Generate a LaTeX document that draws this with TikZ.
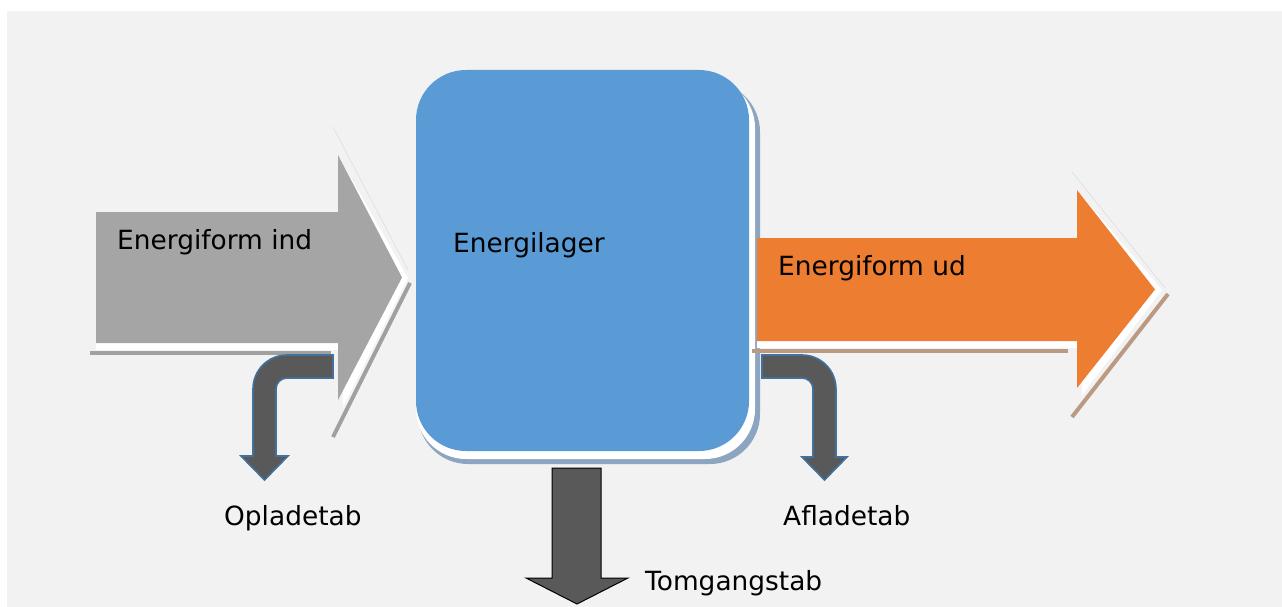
\documentclass[tikz,border=0pt]{standalone}
\usepackage{fontspec}
\setmainfont{DejaVu Sans}
\definecolor{bgc}{HTML}{F2F2F2}
\definecolor{greyarrow}{HTML}{A5A5A5}
\definecolor{greyshadow}{HTML}{A0A0A0}
\definecolor{bluebox}{HTML}{5B9BD5}
\definecolor{blueshadow}{HTML}{8CA5C0}
\definecolor{orangearrow}{HTML}{ED7D31}
\definecolor{orangeshadow}{HTML}{BC9A82}
\definecolor{darkarrow}{HTML}{595959}
\definecolor{darkoutline}{HTML}{41719C}
\definecolor{faintline}{HTML}{E2E2E2}
\tikzset{
  lbl/.style={inner sep=0pt, anchor=base west, font=\fontsize{26.4}{30}\selectfont, text=black},
  shadowstrip/.style={line width=4pt},
  glow/.style={fill=white},
  bentarrow/.style={fill=darkarrow, draw=darkoutline, line width=1.6pt, line join=miter},
  downarrow/.style={fill=darkarrow, draw=black, line width=1pt}
}
\begin{document}
\begin{tikzpicture}[x=1pt,y=-1pt]
\useasboundingbox (0,0) rectangle (1282,607);
\fill[bgc] (7,11) rectangle (1282,607);

% grey input arrow
\draw[greyshadow, shadowstrip] (90,353) -- (331,353);
\draw[greyshadow, shadowstrip] (410,283) -- (333,437);
\draw[faintline, line width=0.8pt] (333,127) -- (408,270);
\fill[glow] (96,212) -- (338,212) -- (338,155) -- (408,278) -- (343,407) -- (343,350) -- (96,350) -- cycle;
\fill[greyarrow] (96,212) -- (338,212) -- (338,155) -- (402,277.5) -- (338,400) -- (338,343) -- (96,343) -- cycle;

% blue storage box
\fill[blueshadow, rounded corners=50pt] (418,82) rectangle (760,464);
\fill[white, rounded corners=50pt] (416,78) rectangle (755,459);
\fill[bluebox, rounded corners=50pt] (416,70) rectangle (749,451);

% orange output arrow
\draw[orangeshadow, shadowstrip] (752,351) -- (1068,351);
\draw[orangeshadow, shadowstrip] (1168,294) -- (1072,417);
\draw[faintline, line width=0.8pt] (1072,172) -- (1165,288);
\fill[glow] (757,238) -- (1077,238) -- (1077,190) -- (1162,290) -- (1082,395) -- (1082,348) -- (757,348) -- cycle;
\fill[orangearrow] (757,238) -- (1077,238) -- (1077,190) -- (1155,289.5) -- (1077,388) -- (1077,341) -- (757,341) -- cycle;

% bent loss arrows
\draw[bentarrow] (333,355) -- (287,355) .. controls (268.2,355) and (253,370.2) .. (253,389)
  -- (253,456) -- (241,456) -- (264.5,480) -- (288,456) -- (276,456) -- (276,389)
  .. controls (276,382.9) and (280.9,378) .. (287,378) -- (333,378) -- cycle;
\draw[bentarrow] (762,355) -- (802,355) .. controls (820.8,355) and (836,370.2) .. (836,389)
  -- (836,457) -- (847,457) -- (824.5,480) -- (802,457) -- (813,457) -- (813,389)
  .. controls (813,382.9) and (808.1,378) .. (802,378) -- (762,378) -- cycle;

% idle loss arrow
\draw[downarrow] (552,468) -- (601,468) -- (601,578) -- (628,578) -- (577,604) -- (526,578) -- (552,578) -- cycle;

% labels
\node[lbl] (ind) at (117,249) {Energiform ind};
\node[lbl] (lager) at (453,252) {Energilager};
\node[lbl] (ud) at (778,275) {Energiform ud};
\node[lbl] (oplade) at (224,525) {Opladetab};
\node[lbl] (aflade) at (783,525) {Afladetab};
\node[lbl] (tomgang) at (645,590) {Tomgangstab};
\end{tikzpicture}
\end{document}
